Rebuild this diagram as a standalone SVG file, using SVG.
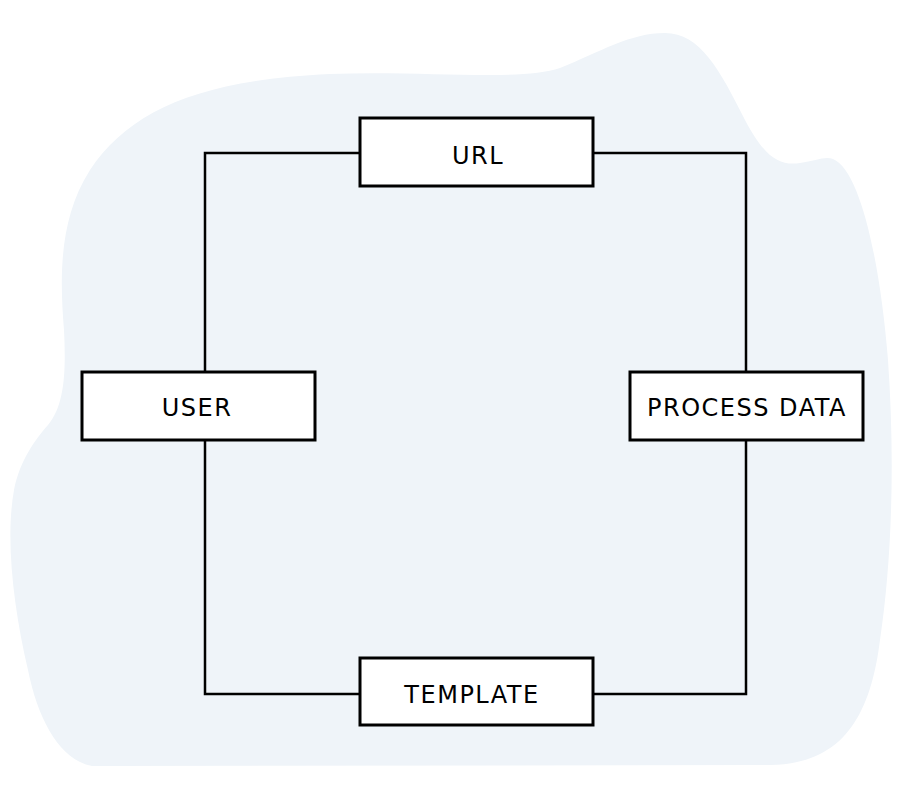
<svg xmlns="http://www.w3.org/2000/svg" width="900" height="800" viewBox="0 0 900 800">
<style>
.node rect{fill:#ffffff;stroke:#000000;stroke-width:3}
.node text{font-family:"Comic Sans MS","DejaVu Sans",sans-serif;font-size:24px;letter-spacing:1.5px;fill:#000000;text-anchor:middle;dominant-baseline:central}
#connectors path{fill:none;stroke:#000000;stroke-width:2.5}
</style>
<rect x="0" y="0" width="900" height="800" fill="#ffffff"/>
<path id="background" fill="#eff4f9" d="M92,766 C60,760 38,720 28,670 C14,610 5,540 14,490 C20,460 35,440 48,425 C65,405 66,370 64,330 C60,280 58,220 90,170 C130,110 200,80 330,74 C420,70 520,82 560,68 C600,52 630,33 665,33 C700,33 720,70 745,120 C765,158 780,166 800,163 C815,161 825,156 833,159 C860,170 880,260 888,360 C895,460 892,560 880,640 C870,720 840,764 770,765 Z"/>
<g id="connectors">
<path d="M360,153 H205 V372"/>
<path d="M205,440 V694 H360"/>
<path d="M593,153 H746 V372"/>
<path d="M746,440 V694 H593"/>
</g>
<g id="node-url" class="node"><rect x="360" y="118" width="233" height="68"/><text x="478" y="156">URL</text></g>
<g id="node-user" class="node"><rect x="82" y="372" width="233" height="68"/><text x="197" y="408">USER</text></g>
<g id="node-process" class="node"><rect x="630" y="372" width="233" height="68"/><text x="747" y="408">PROCESS DATA</text></g>
<g id="node-template" class="node"><rect x="360" y="658" width="233" height="67"/><text x="472" y="695">TEMPLATE</text></g>
</svg>
